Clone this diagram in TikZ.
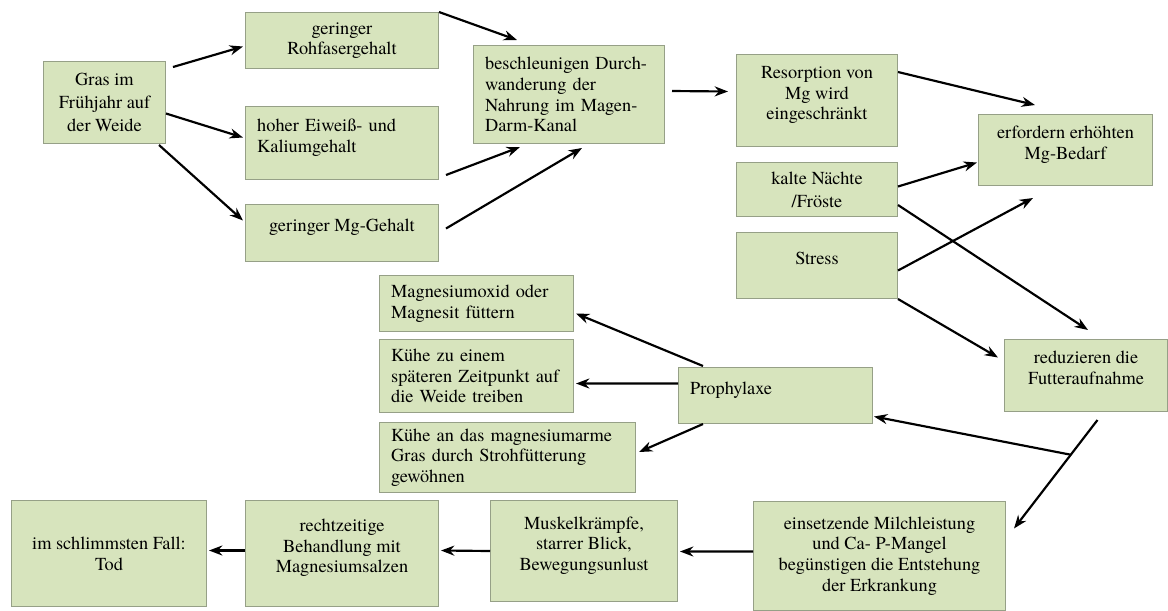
\documentclass[tikz,border=0pt]{standalone}
\usepackage{fontspec}
\setmainfont{texgyretermes}[Extension=.otf, UprightFont=*-regular,
    BoldFont=*-bold, ItalicFont=*-italic, BoldItalicFont=*-bolditalic]
\usepackage{tikz}
\usetikzlibrary{arrows.meta}

\definecolor{boxfill}{HTML}{D7E4BD}
\definecolor{boxline}{RGB}{150,160,135}
\newcommand{\liftup}{\rule[-9pt]{0pt}{9pt}}

\begin{document}
\begin{tikzpicture}[x=0.6pt, y=-0.6pt, >=Stealth,
    every node/.style={font=\fontsize{11}{12.4}\selectfont},
    box/.style={draw=boxline, line width=0.6pt, fill=boxfill, anchor=north west,
        inner xsep=7pt, inner ysep=0pt, align=center},
    lbox/.style={box, align=left},
    arr/.style={->, line width=1.3pt, >={Stealth[length=8pt, width=6pt]}}]
        \useasboundingbox (0,0) rectangle (1168,610);

        % Knoten
        \node[box, minimum width=73.2pt, minimum height=49.2pt, inner xsep=4pt,
            font=\fontsize{11}{13.8}\selectfont] (gras) at (43,61) {Gras im\\Frühjahr auf\\der Weide};
        \node[box, minimum width=115.8pt, minimum height=33.6pt] (rohfaser) at (245,12) {geringer\\Rohfasergehalt};
        \node[lbox, text width=101.8pt, minimum height=43.8pt] (eiweiss) at (245,106) {hoher Eiweiß- und\\Kaliumgehalt\liftup};
        \node[box, minimum width=115.8pt, minimum height=34.2pt] (mggehalt) at (245,204) {geringer Mg-Gehalt\liftup};
        \node[lbox, text width=100.6pt, minimum height=58.8pt] (durch) at (473,45) {beschleunigen Durch-\\wanderung der\\Nahrung im Magen-\\Darm-Kanal};
        \node[box, minimum width=96.6pt, minimum height=55.2pt] (resorp) at (736,54) {Resorption von\\Mg wird\\eingeschränkt\liftup};
        \node[box, minimum width=104.4pt, minimum height=42.6pt] (bedarf) at (978,114) {erfordern erhöhten\\Mg-Bedarf\liftup};
        \node[box, minimum width=96.6pt, minimum height=32.4pt,
            font=\fontsize{11}{13.8}\selectfont] (kalt) at (736,162) {kalte Nächte\\/Fröste};
        \node[box, minimum width=96.6pt, minimum height=39.6pt] (stress) at (736,232) {Stress\liftup};
        \node[box, minimum width=97.8pt, minimum height=43.2pt] (futter) at (1004,339) {reduzieren die\\Futteraufnahme\liftup};
        \node[lbox, text width=102.4pt, minimum height=33.6pt] (magoxid) at (379,275) {Magnesiumoxid oder\\Magnesit füttern};
        \node[lbox, text width=102.4pt, minimum height=43.8pt] (spaeter) at (379,339) {Kühe zu einem\\späteren Zeitpunkt auf\\die Weide treiben};
        \node[lbox, text width=102.4pt, minimum height=33.6pt] (prophy) at (678,367) {Prophylaxe\liftup};
        \node[lbox, text width=139.6pt, minimum height=42pt] (stroh) at (379,422) {Kühe an das magnesiumarme\\Gras durch Strohfütterung\\gewöhnen};
        \node[box, minimum width=117pt, minimum height=63.6pt] (tod) at (11,500) {im schlimmsten Fall:\\Tod};
        \node[box, minimum width=115.8pt, minimum height=63.6pt] (behand) at (245,500) {rechtzeitige\\Behandlung mit\\Magnesiumsalzen\liftup};
        \node[box, minimum width=112.2pt, minimum height=60.6pt] (muskel) at (490,500) {Muskelkrämpfe,\\starrer Blick,\\Bewegungsunlust\liftup};
        \node[box, minimum width=151.2pt, minimum height=65.4pt] (milch) at (753,501) {einsetzende Milchleistung\\und Ca- P-Mangel\\begünstigen die Entstehung\\der Erkrankung};

        % Pfeile
        \draw[arr] ([shift={(7,6)}]gras.north east) -- ([shift={(-2,6)}]rohfaser.west);
        \draw[arr] ([shift={(0,11)}]gras.east) -- ([shift={(-2,-5.5)}]eiweiss.west);
        \draw[arr] ([shift={(-7,1)}]gras.south east) -- ([shift={(-2,-12.5)}]mggehalt.west);
        \draw[arr] (rohfaser.north east) -- ([shift={(44,-5)}]durch.north west);
        \draw[arr] ([shift={(7,-5)}]eiweiss.south east) -- ([shift={(47,3)}]durch.south west);
        \draw[arr] ([shift={(7,-4.5)}]mggehalt.east) -- ([shift={(109,4)}]durch.south west);
        \draw[arr] ([shift={(7,-3.5)}]durch.east) -- ([shift={(-8,-9)}]resorp.west);
        \draw[arr] ([shift={(0,18)}]resorp.north east) -- ([shift={(57,-9)}]bedarf.north west);
        \draw[arr] ([shift={(0,-3)}]kalt.east) -- ([shift={(-1,12.5)}]bedarf.west);
        \draw[arr] ([shift={(0,5)}]stress.east) -- ([shift={(55,12)}]bedarf.south west);
        \draw[arr] ([shift={(0,-12)}]kalt.south east) -- ([shift={(84,-9)}]futter.north west);
        \draw[arr] (stress.south east) -- ([shift={(-6,-18)}]futter.west);
        \draw[arr] ([shift={(11.5,8)}]futter.south) -- coordinate[pos=0.32] (fork) ([shift={(8,-27.5)}]milch.east);
        \draw[arr] (fork) -- ([shift={(1,21)}]prophy.east);
        \draw[arr] ([shift={(25,-1)}]prophy.north west) -- ([shift={(2,10)}]magoxid.east);
        \draw[arr] ([shift={(0,-12)}]prophy.west) -- ([shift={(2,7.5)}]spaeter.east);
        \draw[arr] ([shift={(25,0)}]prophy.south west) -- ([shift={(3,-5.5)}]stroh.east);
        \draw[arr] ([shift={(0,-4.5)}]milch.west) -- ([shift={(2,0.5)}]muskel.east);
        \draw[arr] (muskel.west) -- ([shift={(2,-3)}]behand.east);
        \draw[arr] ([shift={(0,-3)}]behand.west) -- ([shift={(2,-3)}]tod.east);
    \end{tikzpicture}
\end{document}
